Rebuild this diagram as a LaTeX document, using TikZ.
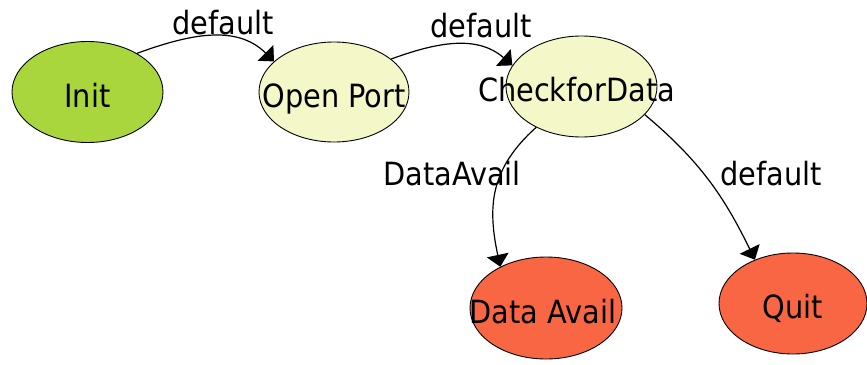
\documentclass[tikz,border=0pt]{standalone}
\usepackage{fontspec}
\usetikzlibrary{shapes.geometric,arrows.meta}
\newfontfamily\statefont[FakeStretch=0.9]{DejaVu Sans}
\definecolor{initgreen}{RGB}{168,214,60}
\definecolor{palestate}{RGB}{244,247,200}
\definecolor{endstate}{RGB}{249,102,67}
\tikzset{
  state/.style={ellipse, draw=black, line width=0.9pt, inner sep=0pt,
    text height=30pt, text depth=0pt,
    font=\statefont\fontsize{32}{38}\selectfont},
  trans/.style={draw=black, line width=1.2pt,
    -{Triangle[width=22pt,length=12pt]}},
  tlabel/.style={inner sep=0pt, anchor=base,
    font=\statefont\fontsize{32}{38}\selectfont}
}
\begin{document}
\begin{tikzpicture}[x=1pt,y=-1pt]
\useasboundingbox (0,0) rectangle (867,364);

% states
\node[state, fill=initgreen, minimum width=151pt, minimum height=101pt]
  (init) at (87.5,92) {\makebox[0pt]{Init}};
\node[state, fill=palestate, minimum width=150pt, minimum height=100pt]
  (open) at (334,92) {\makebox[0pt]{Open Port}};
\node[state, fill=palestate, minimum width=151pt, minimum height=101pt]
  (check) at (581.5,86.5) {\makebox[0pt]{CheckforData\hspace{10pt}}};
\node[state, fill=endstate, minimum width=152pt, minimum height=102pt]
  (avail) at (546,308) {\makebox[0pt]{Data Avail\hspace{6pt}}};
\node[state, fill=endstate, minimum width=148pt, minimum height=101pt]
  (quit) at (793,303.5) {\makebox[0pt]{Quit}};

% transitions
\draw[trans] (init.38) to[out=20, in=135] (open.153);
\draw[trans] (open.30) to[out=20, in=139] (check.163);
\draw[trans] (check.222) to[out=222, in=102, looseness=1.1] (avail.138);
\draw[trans] (check.-24) to[out=-40, in=116] (quit.131);

% transition labels
\node[tlabel] (l1) at (223,34) {default};
\node[tlabel] (l2) at (481,37) {default};
\node[tlabel] (l3) at (452,185) {DataAvail};
\node[tlabel] (l4) at (771,185) {default};
\end{tikzpicture}
\end{document}
